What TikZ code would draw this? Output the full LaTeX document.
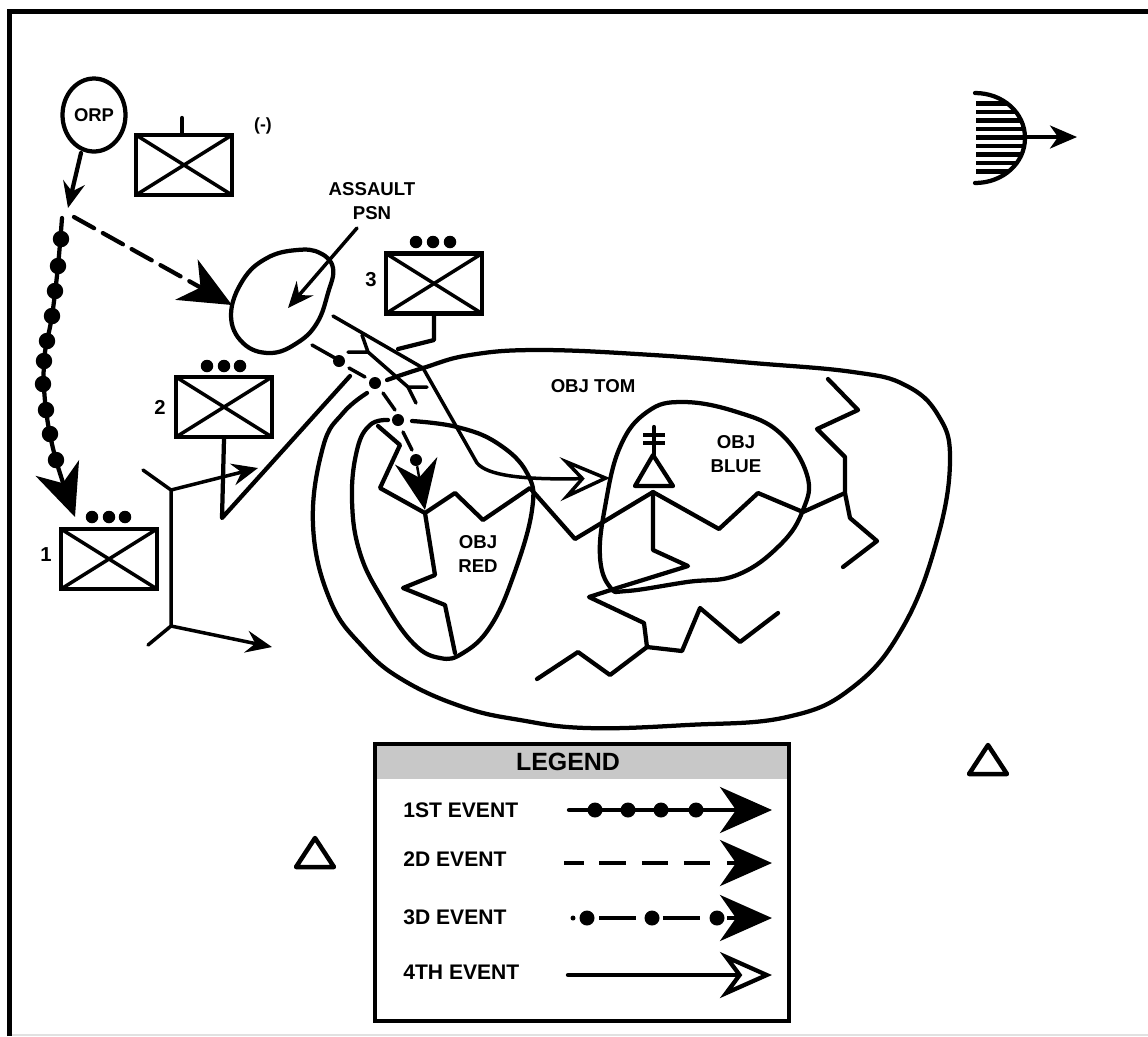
\documentclass[tikz,border=0pt]{standalone}
\usepackage{fontspec}
\setmainfont{Liberation Sans}
\definecolor{legendgray}{RGB}{200, 200, 200}
\definecolor{edgegray}{RGB}{225, 225, 225}
\usetikzlibrary{shapes.geometric, arrows.meta, positioning}
\tikzset{
  mapline/.style={line width=0.085cm, line join=round, line cap=round},
  maptext/.style={font=\bfseries\fontsize{10.6}{13.2}\selectfont, align=center, inner sep=0pt},
  legendtext/.style={font=\bfseries\fontsize{12}{14}\selectfont, anchor=west, inner sep=0pt},
  unitbox/.style={draw, line width=0.085cm, fill=white, minimum width=1.92cm, minimum height=1.2cm, inner sep=0pt,
    path picture={
      \draw[line width=0.07cm] (path picture bounding box.north west) -- (path picture bounding box.south east);
      \draw[line width=0.07cm] (path picture bounding box.south west) -- (path picture bounding box.north east);
    }},
  platoondot/.style={circle, fill=black, inner sep=0pt, minimum size=0.25cm},
  evdot/.style={circle, fill=black, inner sep=0pt, minimum size=0.3cm},
  heavyhead/.style={-{Stealth[length=1.04cm, width=0.92cm, inset=0.32cm]}},
  openhead/.style={-{Stealth[length=1.0cm, width=0.88cm, inset=0.4cm, fill=white]}},
  smallhead/.style={-{Stealth[length=0.52cm, width=0.44cm, inset=0.18cm]}},
  tripod/.style={mapline, line width=0.07cm}
}

\begin{document}
\begin{tikzpicture}[x=0.02cm, y=-0.02cm]
  \useasboundingbox (0,0) rectangle (1148,1036);

  % Frame
  \draw[edgegray, line width=0.03cm] (12,1035) -- (1148,1035);
  \draw[line width=0.1cm] (9.5,1036) -- (9.5,11.5) -- (1148,11.5);

  % ORP and main body
  \node[draw, ellipse, line width=0.085cm, minimum width=1.26cm, minimum height=1.46cm, inner sep=0pt, font=\bfseries\fontsize{10.5}{12}\selectfont] (orp) at (94,115) {ORP};
  \node[unitbox] (unitmain) at (184,165) {};
  \coordinate (unitmaintop) at (182,118);
  \draw[mapline] (unitmaintop) -- (182,133);
  \node[maptext, font=\bfseries\fontsize{10}{12}\selectfont] (minus) at (263,126) {(-)};
  \coordinate (rally) at (68,208);
  \draw[mapline, smallhead] (81,153) -- (rally);

  % Unit 3
  \node[unitbox] (unitthree) at (434,283.5) {};
  \node[maptext, font=\bfseries\fontsize{11.5}{13}\selectfont] (numthree) at (371,280) {3};
  \foreach \dotx/\dotname in {416/a, 433/b, 450/c}
    \node[platoondot] (three\dotname) at (\dotx,242) {};

  % Unit 2
  \node[unitbox] (unittwo) at (224,407) {};
  \node[maptext, font=\bfseries\fontsize{11.5}{13}\selectfont] (numtwo) at (160,407) {2};
  \foreach \dotx/\dotname in {207/a, 224/b, 240/c}
    \node[platoondot] (two\dotname) at (\dotx,366) {};

  % Unit 1
  \node[unitbox] (unitone) at (109,559) {};
  \node[maptext, font=\bfseries\fontsize{11.5}{13}\selectfont] (numone) at (46,555) {1};
  \foreach \dotx/\dotname in {92/a, 109/b, 125/c}
    \node[platoondot] (one\dotname) at (\dotx,517) {};

  % First event route
  \coordinate (routestart) at (62,218);
  \coordinate (routeend) at (75,517);
  \draw[mapline, heavyhead] plot[smooth, tension=0.6] coordinates {(routestart) (58,266) (52,316) (44,361) (46,410) (56,460) (routeend)};
  \foreach \dotx/\doty/\dotname in {61/239/a, 58/266/b, 55/291/c, 52/316/d, 47/341/e, 44/361/f, 43/384/g, 46/410/h, 50/434/i, 56/460/j}
    \node[evdot, minimum size=0.33cm] (route\dotname) at (\dotx,\doty) {};

  % Second event route
  \coordinate (dashstart) at (74,217);
  \coordinate (assaultentry) at (232,305);
  \draw[mapline, heavyhead, dash pattern=on 0.46cm off 0.2cm] (dashstart) -- (assaultentry);

  % Assault position
  \draw[mapline] plot[smooth cycle, tension=0.7] coordinates {(297,250) (320,253) (333,268) (328,293) (317,323) (297,343) (270,353) (243,343) (231,315) (243,280) (267,258)};
  \node[maptext] (assault) at (372,201) {ASSAULT\\PSN};
  \coordinate (assaultpoint) at (288,308);
  \draw[tripod, smallhead] (357,228) -- (assaultpoint);

  % Objectives
  \draw[mapline] plot[smooth, tension=0.7] coordinates {(387,380) (423,368) (470,355) (540,350) (653,355) (753,363) (853,372) (905,385) (938,415) (950,460) (937,540) (903,627) (853,687) (787,717) (687,725) (587,728) (520,720) (463,707) (403,680) (363,647) (330,600) (313,525) (323,447) (343,413) (367,393)};
  \draw[mapline] plot[smooth, tension=0.7] coordinates {(388,420) (370,425) (357,450) (352,500) (360,553) (383,600) (413,643) (440,658) (463,653) (490,627) (513,577) (532,510) (527,473) (497,443) (457,427) (412,421)};
  \draw[mapline] plot[smooth cycle, tension=0.7] coordinates {(683,402) (647,412) (620,447) (605,507) (600,557) (610,587) (627,591) (687,582) (737,575) (780,545) (803,510) (807,475) (780,433) (737,412)};
  \node[maptext] (objtom) at (593,386) {OBJ TOM};
  \node[maptext] (objblue) at (736,454) {OBJ\\BLUE};
  \node[maptext] (objred) at (478,554) {OBJ\\RED};

  % Terrain lines
  \draw[mapline] (378,426) -- (400,445) -- (380,488) -- (425,513) -- (455,493) -- (483,520) -- (530,488) -- (575,539) -- (653,492) -- (719,529) -- (758,493) -- (803,512) -- (845,493);
  \draw[mapline] (425,513) -- (435,575) -- (403,588) -- (445,605) -- (455,653);
  \draw[mapline] (828,379) -- (858,410) -- (817,429) -- (845,457) -- (845,493) -- (850,518) -- (877,541) -- (843,567);
  \draw[mapline] (653,492) -- (653,550) -- (688,566) -- (617,588) -- (589,597) -- (644,623) -- (647,647) -- (682,651) -- (700,608) -- (740,642) -- (778,613);
  \draw[mapline] (647,647) -- (610,675) -- (578,652) -- (537,679);

  % Support symbol on the objective
  \draw[mapline, fill=white] (653,455) -- (635,486) -- (673,486) -- cycle;
  \draw[mapline] (654,427) -- (654,455);
  \draw[mapline, line cap=butt] (643,435) -- (665,435) (643,443) -- (665,443);

  % Unit boundaries and fourth event route
  \coordinate (blueentry) at (610,478);
  \draw[tripod, openhead] (333,316) -- (423,368) -- (477,463) .. controls (487,475) and (520,480) .. (blueentry);
  \draw[mapline] (unittwo.south) -- (222,518) -- (350,376);
  \draw[mapline] (unitthree.south) -- (434,340) -- (398,349);

  % Third event route
  \draw[tripod] (362,335) -- (368,352) -- (348,352) (368,352) -- (408,387) -- (427,387) (408,387) -- (416,403);
  \draw[tripod] (312,345) -- (335,358) (349,368) -- (365,377) (383,393) -- (395,410) (403,432) -- (412,450);
  \node[evdot, minimum size=0.24cm] (thirda) at (339,361) {};
  \node[evdot, minimum size=0.24cm] (thirdb) at (375,383) {};
  \node[evdot, minimum size=0.24cm] (thirdc) at (398,420) {};
  \node[evdot, minimum size=0.24cm] (thirdd) at (416,460) {};
  \coordinate (thirdend) at (425,510);
  \draw[line width=0.05cm, -{Stealth[length=1cm, width=0.86cm, inset=0.34cm]}] (thirdd) -- (thirdend);

  % Flank lines
  \coordinate (flanktop) at (171,490);
  \coordinate (flankbottom) at (171,626);
  \coordinate (flanktopend) at (258,468);
  \coordinate (flankbottomend) at (272,647);
  \draw[tripod] (143,470) -- (flanktop) -- (flankbottom) -- (148,645);
  \draw[tripod, smallhead] (flanktop) -- (flanktopend);
  \draw[tripod, smallhead] (flankbottom) -- (flankbottomend);

  % Half circle with hatching
  \begin{scope}
    \clip (975,93) .. controls (1003,93) and (1025,113) .. (1025,138) .. controls (1025,163) and (1003,183) .. (975,183) -- cycle;
    \foreach \haty in {103.5,112,120.5,129,137.5,146,154.5,163,171.5}
      \draw[line width=0.085cm] (976,\haty) -- (1030,\haty);
  \end{scope}
  \draw[mapline] (975,93) .. controls (1003,93) and (1025,113) .. (1025,138) .. controls (1025,163) and (1003,183) .. (975,183);
  \coordinate (halfright) at (1025,137);
  \coordinate (halftip) at (1077,137);
  \draw[tripod, -{Stealth[length=0.54cm, width=0.46cm, inset=0.16cm]}] (halfright) -- (halftip);

  % Triangles
  \draw[mapline, line width=0.09cm] (988,745) -- (969,774) -- (1007,774) -- cycle;
  \draw[mapline, line width=0.09cm] (315,838) -- (296,867) -- (334,867) -- cycle;

  % Legend
  \node[fill=legendgray, minimum width=8.32cm, minimum height=0.72cm, inner sep=0pt] (legendhead) at (582,761) {};
  \node[draw, line width=0.09cm, minimum width=8.28cm, minimum height=5.54cm, inner sep=0pt] (legend) at (582,882.5) {};
  \node[font=\bfseries\fontsize{14.2}{16}\selectfont, inner sep=0pt] (legendtitle) at (568,762) {LEGEND};
  \node[legendtext] (eventone) at (403,810) {1ST EVENT};
  \node[legendtext] (eventtwo) at (403,859) {2D EVENT};
  \node[legendtext] (eventthree) at (403,917) {3D EVENT};
  \node[legendtext] (eventfour) at (403,972) {4TH EVENT};

  \coordinate (onestart) at (569,810);
  \coordinate (oneend) at (772,810);
  \draw[mapline, heavyhead] (onestart) -- (oneend);
  \foreach \dotx/\dotname in {595/a, 628/b, 661/c, 696/d}
    \node[evdot] (legendone\dotname) at (\dotx,810) {};

  \coordinate (twostart) at (564,863);
  \coordinate (twoend) at (772,863);
  \draw[mapline, line cap=butt, heavyhead, dash pattern=on 0.4cm off 0.3cm on 0.54cm off 0.32cm on 0.52cm off 0.32cm on 0.52cm off 0.34cm] (twostart) -- (twoend);

  \coordinate (threestart) at (599,918);
  \coordinate (threeend) at (772,918);
  \draw[mapline, line cap=butt, heavyhead, dash pattern=on 0.74cm off 0.54cm] (threestart) -- (threeend);
  \node[evdot, minimum size=0.1cm] (legendthreedot) at (573,918) {};
  \foreach \dotx/\dotname in {587/a, 652/b, 717/c}
    \node[evdot] (legendthree\dotname) at (\dotx,918) {};

  \coordinate (fourstart) at (568,975);
  \coordinate (fourend) at (772,975);
  \draw[mapline, -{Stealth[length=1.04cm, width=0.92cm, inset=0.34cm, fill=white]}] (fourstart) -- (fourend);
\end{tikzpicture}
\end{document}
